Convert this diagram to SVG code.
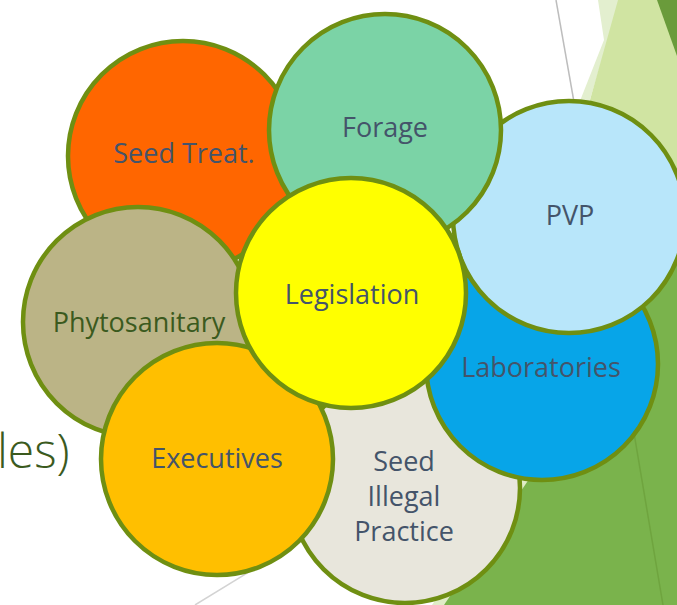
<svg xmlns="http://www.w3.org/2000/svg" width="677" height="605" viewBox="0 0 677 605">
<style>
.c{stroke:#6F8F12;stroke-width:4.5}
.t{font-family:"Open Sans","Liberation Sans",sans-serif;font-size:27px;fill:#44546A;text-anchor:middle}
</style>
<rect width="677" height="605" fill="#FFFFFF"/>
<g id="background">
<polygon points="598,0 620,0 588,106 578,106 604,40" fill="#E3EFCF"/>
<polygon points="618,0 677,0 677,605 500,605 530,300 590,100" fill="#D0E4A2"/>
<polygon points="657,0 677,0 677,56" fill="#6A9B3B"/>
<polygon points="677,246 677,262 446,605 432,605" fill="#E0EDC7"/>
<polygon points="677,260 677,605 444,605" fill="#7AB34C"/>
<line x1="620" y1="350" x2="663" y2="605" stroke="#6FA43F" stroke-width="1.5"/>
<line x1="556" y1="0" x2="574" y2="102" stroke="#BDBDBD" stroke-width="1.5"/>
<line x1="195" y1="605" x2="265" y2="562" stroke="#D3D3D3" stroke-width="1.5"/>
<text x="-3" y="468" font-family="'Open Sans','Liberation Sans',sans-serif" font-size="48" font-weight="300" fill="#3B5A1E">les)</text>
</g>
<g id="node-seedtreat"><circle class="c" cx="183" cy="156" r="115" fill="#FF6600"/><text class="t" x="184" y="163">Seed Treat.</text></g>
<g id="node-seedillegal"><circle class="c" cx="405" cy="488" r="115" fill="#E8E6DC"/><text class="t" x="404" y="471">Seed</text><text class="t" x="404" y="506">Illegal</text><text class="t" x="404" y="541">Practice</text></g>
<g id="node-laboratories"><circle class="c" cx="542" cy="364" r="116" fill="#07A5E8"/><text class="t" x="541" y="377">Laboratories</text></g>
<g id="node-pvp"><circle class="c" cx="569" cy="217" r="116" fill="#B8E6FA"/><text class="t" x="570" y="225">PVP</text></g>
<g id="node-forage"><circle class="c" cx="385" cy="130" r="116" fill="#7BD3A6"/><text class="t" x="385" y="137">Forage</text></g>
<g id="node-phytosanitary"><circle class="c" cx="138" cy="322" r="115" fill="#BBB486"/><text class="t" x="139" y="332" style="fill:#3B5A1E">Phytosanitary</text></g>
<g id="node-executives"><circle class="c" cx="217" cy="459" r="116" fill="#FFBF00"/><text class="t" x="217" y="468">Executives</text></g>
<g id="node-legislation"><circle class="c" cx="351" cy="293" r="115" fill="#FFFF00"/><text class="t" x="352" y="304">Legislation</text></g>
<g id="connectors"></g>
</svg>
